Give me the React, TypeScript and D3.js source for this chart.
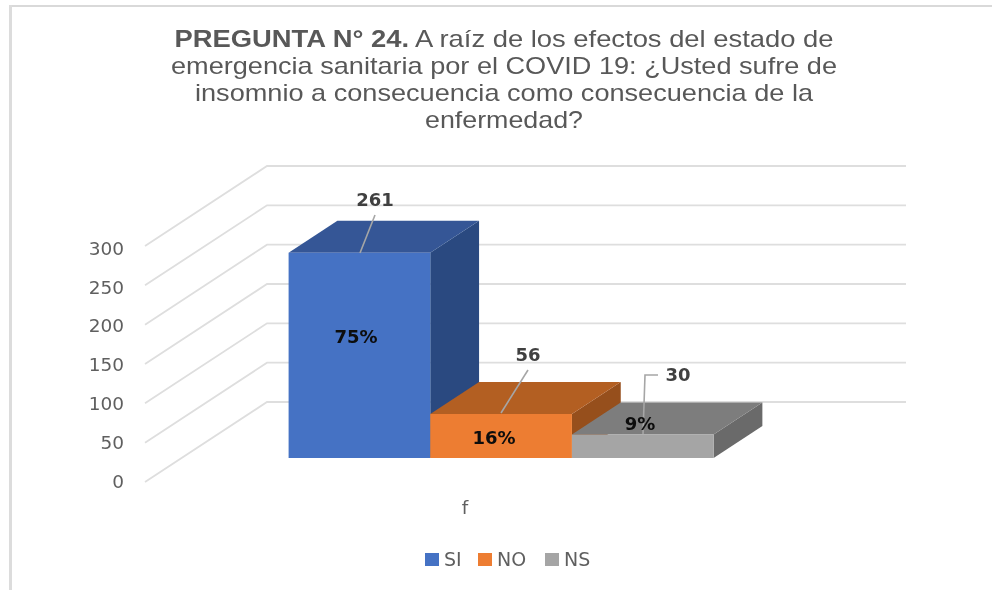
import { useEffect, useRef } from 'react'
import * as d3 from 'd3'

const categories = ['SI', 'NO', 'NS']
const counts = [261, 56, 30]
const percents = ['75%', '16%', '9%']
const yTicks = [0, 50, 100, 150, 200, 250, 300]
const axisLabel = 'f'
const frontColors = ['#4472c4', '#ed7d31', '#a5a5a5']
const topColors = ['#355796', '#b35e22', '#7d7d7d']
const sideColors = ['#2a4a80', '#964f1d', '#6a6a6a']
const titleLines = [
  { bold: 'PREGUNTA N° 24.', rest: ' A raíz de los efectos del estado de', width: 659 },
  { bold: '', rest: 'emergencia sanitaria por el COVID 19: ¿Usted sufre de', width: 666 },
  { bold: '', rest: 'insomnio a consecuencia como consecuencia de la', width: 618 },
  { bold: '', rest: 'enfermedad?', width: 158 },
]

export default function App() {
  const svgRef = useRef<SVGSVGElement>(null)

  useEffect(() => {
    if (!svgRef.current) return
    const root = d3.select(svgRef.current)
    root.selectAll('*').remove()

    const width = 992
    const height = 590
    const font = '"DejaVu Sans", sans-serif'

    // the source is a soft, upscaled screenshot
    root.append('defs').append('filter')
      .attr('id', 'soft')
      .attr('x', 0).attr('y', 0).attr('width', 1).attr('height', 1)
      .append('feGaussianBlur')
      .attr('stdDeviation', 0.45)
    const svg = root.append('g').attr('filter', 'url(#soft)')
    svg.append('rect').attr('width', width).attr('height', height).attr('fill', '#fff')

    // chart frame, only top and left edges are visible
    svg.append('rect').attr('x', 9).attr('y', 5).attr('width', width - 9).attr('height', 2).attr('fill', '#d9d9d9')
    svg.append('rect').attr('x', 9).attr('y', 5).attr('width', 3).attr('height', height - 5).attr('fill', '#dcdcdc')

    titleLines.forEach((l, i) => {
      const t = svg.append('text')
        .attr('x', 504)
        .attr('y', 47 + i * 27)
        .attr('text-anchor', 'middle')
        .attr('font-family', '"Liberation Sans", Arial, sans-serif')
        .attr('font-size', 24)
        .attr('fill', '#595959')
        .attr('textLength', l.width)
        .attr('lengthAdjust', 'spacingAndGlyphs')
      if (l.bold) t.append('tspan').attr('font-weight', 'bold').text(l.bold)
      t.append('tspan').text(l.rest)
    })

    // fake 3d: the floor runs from the front edge back along this vector
    const depthX = d3.scaleLinear().domain([0, 1]).range([0, 122])
    const depthY = d3.scaleLinear().domain([0, 1]).range([0, -80])
    const x = d3.scaleBand().domain(categories).range([107, 532])
    const xOuter = d3.scaleLinear().domain([0, 1]).range([145, 784])
    const y = d3.scaleLinear().domain([0, 300]).range([482, 246])
    const yLabel = d3.scaleLinear().domain([0, 300]).range([481.5, 248])

    const project = (px: number, py: number, d: number): [number, number] => [
      px + depthX(d),
      py + depthY(d),
    ]

    const gridLine = d3.line()
    yTicks.forEach(tick => {
      svg.append('path')
        .attr('d', gridLine([
          project(xOuter(0), y(tick), 0),
          project(xOuter(0), y(tick), 1),
          project(xOuter(1), y(tick), 1),
        ]))
        .attr('fill', 'none')
        .attr('stroke', '#dedede')
        .attr('stroke-width', 1.8)

      svg.append('text')
        .attr('x', 124)
        .attr('y', yLabel(tick))
        .attr('dy', '0.36em')
        .attr('text-anchor', 'end')
        .attr('font-family', font)
        .attr('font-size', 18.5)
        .attr('fill', '#5f5f5f')
        .text(tick)
    })

    const d0 = 0.3
    const d1 = 0.7
    const poly = (pts: [number, number][], fill: string) =>
      svg.append('polygon')
        .attr('points', pts.map(p => p.join(',')).join(' '))
        .attr('fill', fill)

    // left to right: each bar's top hides the lower part of the previous side face
    categories.forEach((c, i) => {
      const x0 = xOuter(0) + x(c)!
      const x1 = x0 + x.bandwidth()
      const yb = y(0)
      const yt = y(counts[i])
      poly([project(x1, yb, d0), project(x1, yb, d1), project(x1, yt, d1), project(x1, yt, d0)], sideColors[i])
      poly([project(x0, yt, d0), project(x0, yt, d1), project(x1, yt, d1), project(x1, yt, d0)], topColors[i])
      poly([project(x0, yb, d0), project(x1, yb, d0), project(x1, yt, d0), project(x0, yt, d0)], frontColors[i])
    })

    // leader lines and value labels
    const leaders: [number, number][][] = [
      [[360, 253], [375, 215]],
      [[501, 413], [528, 370]],
      [[643, 434], [645, 375], [658, 375]],
    ]
    const countPos: [number, number][] = [[375, 206], [528, 361], [678, 381]]
    const percentPos: [number, number][] = [[356, 343], [494, 444], [640, 430]]

    leaders.forEach(pts => {
      svg.append('path')
        .attr('d', gridLine(pts))
        .attr('fill', 'none')
        .attr('stroke', '#a6a6a6')
        .attr('stroke-width', 1.6)
    })

    counts.forEach((c, i) => {
      svg.append('text')
        .attr('x', countPos[i][0])
        .attr('y', countPos[i][1])
        .attr('text-anchor', 'middle')
        .attr('font-family', font)
        .attr('font-size', 18)
        .attr('font-weight', 'bold')
        .attr('fill', '#404040')
        .text(c)
      svg.append('text')
        .attr('x', percentPos[i][0])
        .attr('y', percentPos[i][1])
        .attr('text-anchor', 'middle')
        .attr('font-family', font)
        .attr('font-size', 18)
        .attr('font-weight', 'bold')
        .attr('fill', '#0d0d0d')
        .text(percents[i])
    })

    svg.append('text')
      .attr('x', 465)
      .attr('y', 514)
      .attr('text-anchor', 'middle')
      .attr('font-family', font)
      .attr('font-size', 18.5)
      .attr('fill', '#5f5f5f')
      .text(axisLabel)

    const legendX = [425, 478, 545]
    categories.forEach((c, i) => {
      svg.append('rect')
        .attr('x', legendX[i])
        .attr('y', 553)
        .attr('width', 14)
        .attr('height', 13)
        .attr('fill', frontColors[i])
      svg.append('text')
        .attr('x', legendX[i] + 19)
        .attr('y', 566)
        .attr('font-family', font)
        .attr('font-size', 19)
        .attr('fill', '#5f5f5f')
        .text(c)
    })
  }, [])

  return (
    <svg
      ref={svgRef}
      width={992}
      height={590}
      style={{ position: 'absolute', left: 0, top: 0, background: '#fff' }}
    />
  )
}
